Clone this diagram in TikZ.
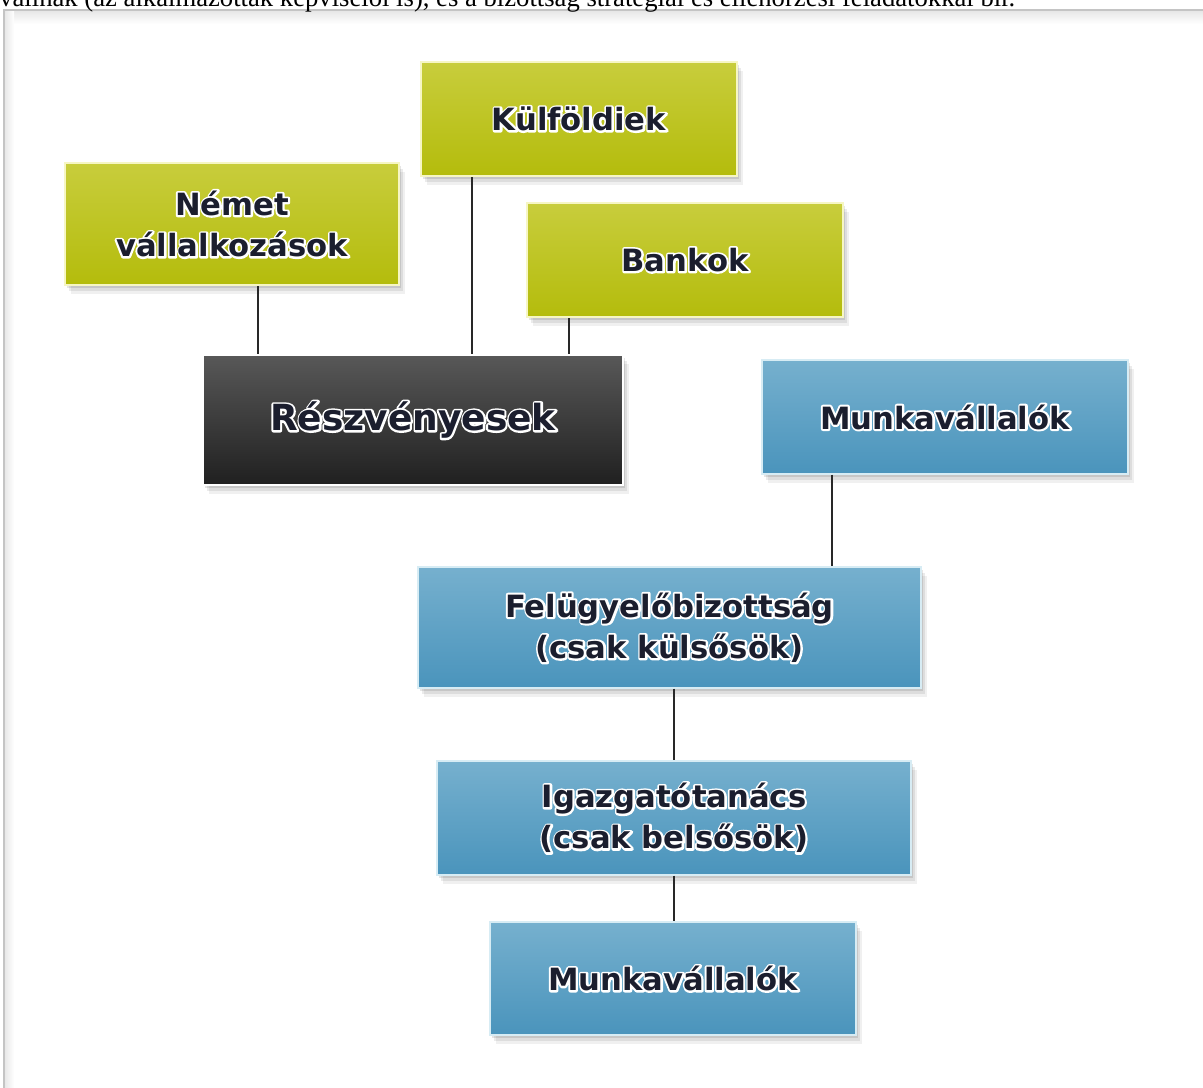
\documentclass[tikz,border=0pt]{standalone}
\usepackage{fontspec}
\setmainfont{Liberation Serif}
\newfontfamily\bxf{DejaVu Sans}
\usetikzlibrary{shadows}
\definecolor{txtc}{HTML}{1B1E2E}
\definecolor{gtop}{RGB}{200,205,60}
\definecolor{gbot}{RGB}{180,188,12}
\definecolor{glowy}{RGB}{246,246,196}
\definecolor{btop}{RGB}{118,176,206}
\definecolor{bbot}{RGB}{74,148,188}
\definecolor{glowb}{RGB}{215,236,244}
\definecolor{ktop}{RGB}{88,88,88}
\definecolor{kbot}{RGB}{32,32,32}
\definecolor{framec}{RGB}{196,196,196}
\definecolor{linec}{RGB}{40,40,40}
% white halo: one stroked copy behind the filled text
\newcommand\glw[1]{{\leavevmode
 \rlap{\special{pdf:literal direct 1 Tr 3 w 1 j 1 1 1 RG}#1\special{pdf:literal direct 0 Tr}}%
 #1}}
\tikzset{
  bw/.style={minimum width=#1*0.75pt},
  bh/.style={minimum height=#1*0.75pt},
  basebox/.style={rectangle, inner sep=0pt, align=center, text=txtc,
    font=\bxf\bfseries\fontsize{23}{31}\selectfont,
    drop shadow={shadow xshift=1.5pt, shadow yshift=-2pt, opacity=.10, fill=black},
    drop shadow={shadow xshift=3pt, shadow yshift=-4.5pt, opacity=.08, fill=black},
    drop shadow={shadow xshift=4.5pt, shadow yshift=-7pt, opacity=.06, fill=black}},
  gbox/.style={basebox, top color=gtop, middle color=gbot, bottom color=gbot, draw=glowy, line width=1.5pt},
  bbox/.style={basebox, top color=btop, middle color=bbot, bottom color=bbot, draw=glowb, line width=1pt},
  kbox/.style={basebox, top color=ktop, middle color=kbot, bottom color=kbot, draw=white, line width=0.8pt,
    font=\bxf\bfseries\fontsize{27}{32}\selectfont},
  conn/.style={draw=linec, line width=1.4pt}
}
\begin{document}
\begin{tikzpicture}[x=0.75pt,y=-0.75pt]
\useasboundingbox (0,0) rectangle (1203,1088);
\clip (0,0) rectangle (1203,1088);
\fill[white] (0,0) rectangle (1203,1088);
% frame
\shade[top color=black!10, bottom color=white] (4,10) rectangle (1210,24);
\shade[left color=black!10, right color=white] (4,10) rectangle (14,1100);
\draw[framec, line width=1.6pt] (4,1100) -- (4,10) -- (1210,10);
% partial text line at the top
\node[anchor=base west, inner sep=0pt, font=\fontsize{20}{24}\selectfont] (intro) at (-1,7)
  {vállnak (az alkalmazottak képviselői is), és a bizottság stratégiai és ellenőrzési feladatokkal bír.};
% boxes
\node[gbox, bw=316, bh=114] (kulf) at (579,119) {\glw{Külföldiek}};
\node[gbox, bw=334, bh=122] (nemet) at (232,224) {\glw{Német}\\\glw{vállalkozások}};
\node[gbox, bw=316, bh=114] (bank) at (685,260) {\glw{Bankok}};
\node[kbox, bw=420, bh=130] (resz) at (413,420) {\glw{Részvényesek}};
\node[bbox, bw=366, bh=114] (munk1) at (945,417) {\glw{Munkavállalók}};
\node[bbox, bw=503, bh=121] (felu) at (669.5,627.5) {\glw{Felügyelőbizottság}\\\glw{(csak külsősök)}};
\node[bbox, bw=474, bh=114] (igaz) at (674,818) {\glw{Igazgatótanács}\\\glw{(csak belsősök)}};
\node[bbox, bw=366, bh=113] (munk2) at (673,978.5) {\glw{Munkavállalók}};
% connectors
\draw[conn] ([xshift=26*0.75pt]nemet.south) -- ([xshift=26*0.75pt]nemet.south |- resz.north);
\draw[conn] ([xshift=-107*0.75pt]kulf.south) -- ([xshift=-107*0.75pt]kulf.south |- resz.north);
\draw[conn] ([xshift=-116*0.75pt]bank.south) -- ([xshift=-116*0.75pt]bank.south |- resz.north);
\draw[conn] ([xshift=-113*0.75pt]munk1.south) -- ([xshift=-113*0.75pt]munk1.south |- felu.north);
\draw[conn] (felu.south -| igaz.north) -- (igaz.north);
\draw[conn] (igaz.south) -- (igaz.south |- munk2.north);
\end{tikzpicture}
\end{document}
